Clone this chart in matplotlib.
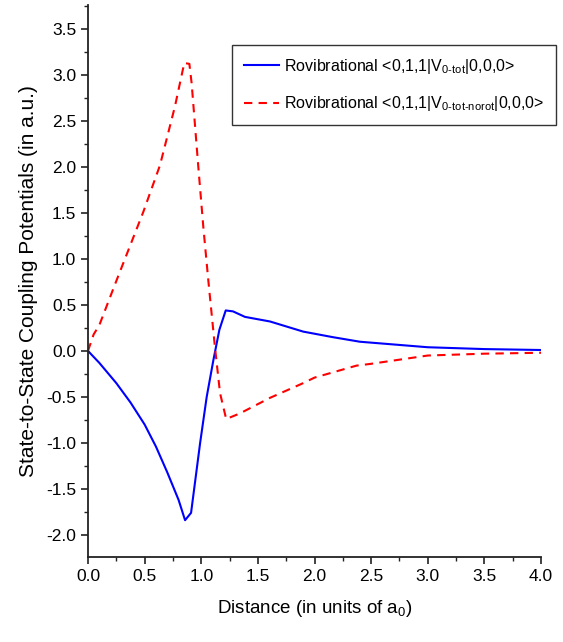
import matplotlib.pyplot as plt
from matplotlib.ticker import MultipleLocator

# ===============================
# DATA
# ===============================
x_tot = [0.0, 0.1, 0.25, 0.375, 0.5, 0.6, 0.7, 0.80, 0.857, 0.91, 0.99, 1.048, 1.107,
         1.16, 1.216, 1.28, 1.386, 1.607, 1.90, 2.16, 2.40, 2.6, 3.0, 3.5, 4.0]
y_tot = [0.0, -0.13, -0.35, -0.56, -0.80, -1.04, -1.32, -1.62, -1.84, -1.76, -1.0, -0.50,
         -0.10, 0.23, 0.44, 0.43, 0.37, 0.32, 0.21, 0.15, 0.10, 0.08, 0.04, 0.02, 0.01]

x_norot = [0.0, 0.05, 0.10, 0.253, 0.488, 0.636, 0.768, 0.85, 0.895, 0.915, 0.974,
           1.018, 1.062, 1.12, 1.166, 1.22, 1.34, 1.607, 1.90, 2.0, 2.37, 2.5, 3.0,
           3.5, 4.0]
y_norot = [0.0, 0.18, 0.28, 0.77, 1.51, 2.02, 2.66, 3.13, 3.12, 2.91, 2.0,
           1.35, 0.77, 0.05, -0.46, -0.74, -0.68, -0.51, -0.35, -0.29, -0.16, -0.14,
           -0.05, -0.03, -0.02]

label_tot = r"Rovibrational <0,1,1|V$_{\mathregular{0\text{-}tot}}$|0,0,0>"
label_norot = r"Rovibrational <0,1,1|V$_{\mathregular{0\text{-}tot\text{-}norot}}$|0,0,0>"

# ===============================
# STYLE
# ===============================
plt.rcParams['font.family'] = ['Liberation Sans', 'DejaVu Sans']
plt.rcParams['mathtext.fontset'] = 'custom'
plt.rcParams['mathtext.rm'] = 'Liberation Sans'

fig = plt.figure(figsize=(5.63, 6.42), dpi=100)
ax = fig.add_axes([0.1563, 0.1324, 0.8047, 0.8598])

ax.plot(x_tot, y_tot, color='#0000ff', lw=1.5, label=label_tot)
ax.plot(x_norot, y_norot, color='#ff0000', lw=1.5, ls=(0, (4, 3)), label=label_norot)

ax.set_xlim(0, 4.0)
ax.set_ylim(-2.24, 3.76)
ax.xaxis.set_major_locator(MultipleLocator(0.5))
ax.xaxis.set_minor_locator(MultipleLocator(0.25))
ax.yaxis.set_major_locator(MultipleLocator(0.5))
ax.yaxis.set_minor_locator(MultipleLocator(0.25))
ax.xaxis.set_major_formatter(lambda v, p: f"{v:.1f}")
ax.yaxis.set_major_formatter(lambda v, p: f"{v:.1f}")

for s in ['top', 'right']:
    ax.spines[s].set_visible(False)
for s in ['left', 'bottom']:
    ax.spines[s].set_linewidth(1.3)
    ax.spines[s].set_color('#222222')

ax.tick_params(which='major', direction='out', length=5, width=1.2, labelsize=12.5, color='#222222')
ax.tick_params(which='minor', direction='out', length=3, width=1.0, color='#222222')

ax.set_xlabel(r"Distance (in units of a$_{\mathregular{0}}$)", fontsize=13.5, labelpad=10)
ax.set_ylabel("State-to-State Coupling Potentials (in a.u.)", fontsize=15, labelpad=6)

leg = ax.legend(loc='upper right', bbox_to_anchor=(1.033, 0.9275), borderaxespad=0,
                fontsize=11.5, frameon=True, fancybox=False, handlelength=2.2,
                handletextpad=0.3, borderpad=0.75, labelspacing=1.15)
leg.get_frame().set_edgecolor('black')
leg.get_frame().set_linewidth(1.0)

plt.savefig("out.png", dpi=100)
plt.close()
